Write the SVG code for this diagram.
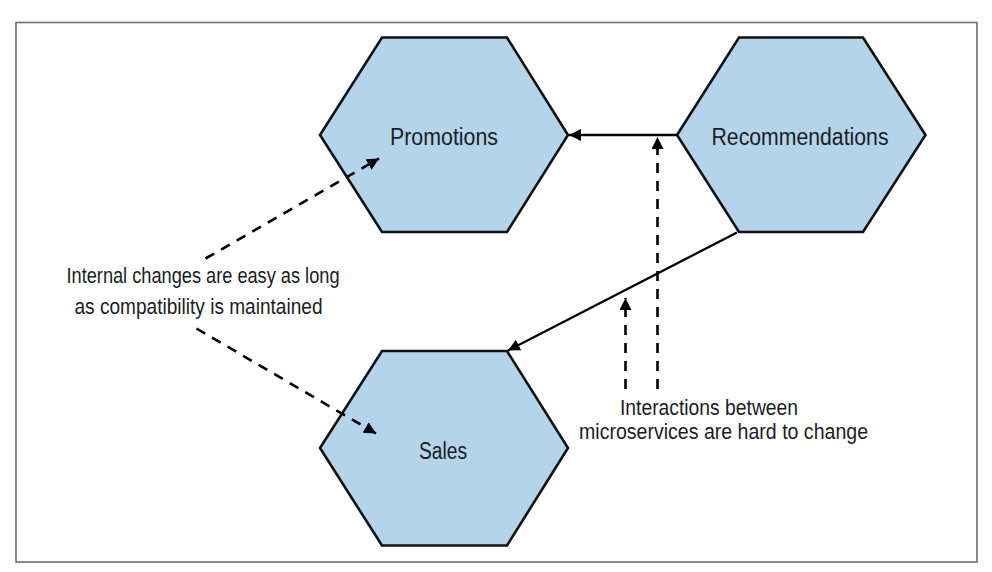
<svg xmlns="http://www.w3.org/2000/svg" width="992" height="572" viewBox="0 0 992 572">
<style>
.hex{fill:#b3d4ea;stroke:#111;stroke-width:2.6;stroke-linejoin:miter}
.lbl{font-family:"Liberation Sans",Arial,sans-serif;font-size:23px;fill:#1c1c24;text-anchor:middle}
.note{font-family:"Liberation Sans",Arial,sans-serif;font-size:22px;fill:#1c1c24;text-anchor:middle}
.solid{stroke:#000;stroke-width:2.3;fill:none}
.dash{stroke:#000;stroke-width:2.6;fill:none;stroke-dasharray:10 8}
</style>
<defs>
<marker id="ah" viewBox="0 0 10 10" refX="10" refY="5" markerWidth="12" markerHeight="12" markerUnits="userSpaceOnUse" orient="auto">
<path d="M0,0 L10,5 L0,10 z" fill="#000"/>
</marker>
</defs>
<rect x="16" y="22.5" width="961" height="539.5" fill="#fff" stroke="#6e6e6e" stroke-width="1.6"/>
<g id="promotions">
<polygon class="hex" points="382,37.5 507,37.5 568,135 507,232 382,232 320,135"/>
<text class="lbl" x="444" y="145" textLength="108" lengthAdjust="spacingAndGlyphs">Promotions</text>
</g>
<g id="recommendations">
<polygon class="hex" points="739,37.5 863,37.5 925.5,135 863,232 739,232 677,135"/>
<text class="lbl" x="800" y="145" textLength="177" lengthAdjust="spacingAndGlyphs">Recommendations</text>
</g>
<g id="sales">
<polygon class="hex" points="382,351 507,351 568,448 507,545.5 382,545.5 320,448"/>
<text class="lbl" x="443" y="459" textLength="48" lengthAdjust="spacingAndGlyphs">Sales</text>
</g>
<g id="note-internal">
<text class="note" x="203" y="283" textLength="273" lengthAdjust="spacingAndGlyphs">Internal changes are easy as long</text>
<text class="note" x="198.5" y="314" textLength="248" lengthAdjust="spacingAndGlyphs">as compatibility is maintained</text>
</g>
<g id="note-interactions">
<text class="note" x="709" y="415" textLength="178" lengthAdjust="spacingAndGlyphs">Interactions between</text>
<text class="note" x="723.5" y="438.5" textLength="289" lengthAdjust="spacingAndGlyphs">microservices are hard to change</text>
</g>
<g id="connectors">
<line class="solid" x1="677" y1="135" x2="569" y2="135" marker-end="url(#ah)"/>
<line class="solid" x1="737" y1="232.5" x2="508" y2="350.5" marker-end="url(#ah)"/>
<line class="dash" x1="657.5" y1="389" x2="657.5" y2="137" marker-end="url(#ah)"/>
<line class="dash" x1="625.5" y1="389" x2="625.5" y2="298" marker-end="url(#ah)"/>
<line class="dash" x1="205.5" y1="258.5" x2="379" y2="158.5" marker-end="url(#ah)"/>
<line class="dash" x1="196.5" y1="328.5" x2="376" y2="433.5" marker-end="url(#ah)"/>
</g>
</svg>
